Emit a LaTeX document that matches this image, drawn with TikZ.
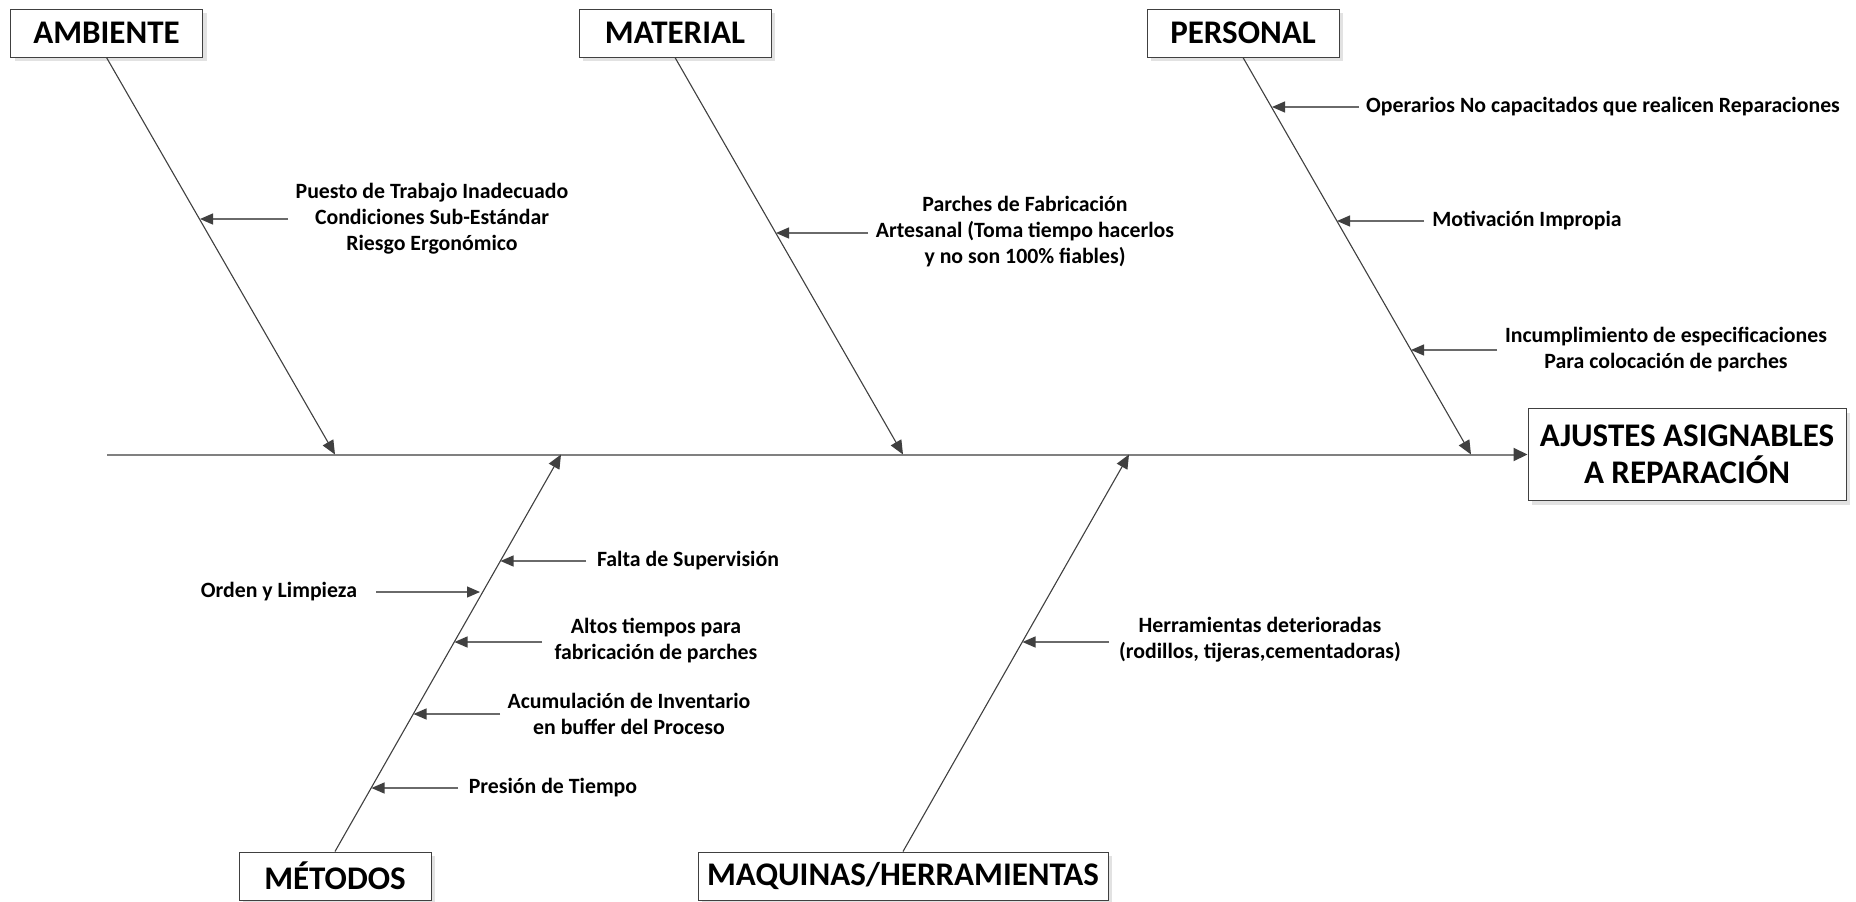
\documentclass[tikz,border=0pt]{standalone}
\usepackage{fontspec}
\setmainfont{Carlito}
\usetikzlibrary{arrows.meta,shadows}

\definecolor{edge}{HTML}{404040}
\definecolor{spinecol}{HTML}{808080}
\definecolor{causecol}{HTML}{6A6A6A}
\definecolor{shade}{HTML}{E2E2E2}

\begin{document}
\begin{tikzpicture}[x=1pt,y=-1pt,
  catbox/.style={draw=edge, line width=1pt, fill=white,
    minimum height=48pt, minimum width=192pt, inner sep=0pt,
    font=\fontsize{33}{38}\selectfont\bfseries,
    drop shadow={shadow xshift=4pt, shadow yshift=-4pt, fill=shade, opacity=1}},
  effectbox/.style={catbox, minimum width=318pt, minimum height=92pt,
    align=center, font=\fontsize{33}{37}\selectfont\bfseries},
  cause/.style={align=center, inner sep=0pt,
    font=\fontsize{21.8}{26}\selectfont\bfseries},
  spine/.style={draw=spinecol, line width=2pt,
    -{Triangle[length=14pt,width=13pt,color=edge]}},
  bone/.style={draw=edge, line width=1.1pt,
    -{Triangle[length=14pt,width=12pt,color=edge]}},
  causearrow/.style={draw=causecol, line width=1.3pt,
    -{Triangle[length=13pt,width=11pt,color=edge]}}
]
\fill[white] (0,0) rectangle (1856,902);
\useasboundingbox (0,0) rectangle (1856,902);

% category boxes and effect
\node[catbox] (amb) at (106.5,33) {AMBIENTE};
\node[catbox] (mat) at (675,33) {MATERIAL};
\node[catbox] (per) at (1243,33) {PERSONAL};
\node[catbox] (met) at (335,876) {MÉTODOS};
\node[catbox, minimum width=410pt] (maq) at (903,876) {MAQUINAS/HERRAMIENTAS};
\node[effectbox] (eff) at (1687,454.5) {AJUSTES ASIGNABLES\\A REPARACIÓN};

% spine
\coordinate (head) at (107,454.5);
\draw[spine] (head) -- (eff.west);

% main bones
\coordinate (ambT) at (335,454.5);
\coordinate (matT) at (903,454.5);
\coordinate (perT) at (1471,454.5);
\coordinate (metT) at (561,454.5);
\coordinate (maqT) at (1129,454.5);
\draw[bone] (amb.south) -- (ambT);
\draw[bone] (mat.south) -- (matT);
\draw[bone] (per.south) -- (perT);
\draw[bone] (met.north) -- (metT);
\draw[bone] (maq.north) -- (maqT);

% causes
\node[cause] (c1) at (432,219) {Puesto de Trabajo Inadecuado\\Condiciones Sub-Estándar\\Riesgo Ergonómico};
\node[cause] (c2) at (1025,232) {Parches de Fabricación\\Artesanal (Toma tiempo hacerlos\\y no son 100\% fiables)};
\node[cause] (c3) at (1603,107) {Operarios No capacitados que realicen Reparaciones};
\node[cause] (c4) at (1527,221) {Motivación Impropia};
\node[cause] (c5) at (1666,350) {Incumplimiento de especificaciones\\Para colocación de parches};
\node[cause] (c6) at (688,561) {Falta de Supervisión};
\node[cause] (c7) at (279,592) {Orden y Limpieza};
\node[cause] (c8) at (656,641) {Altos tiempos para\\fabricación de parches};
\node[cause] (c9) at (629,714) {Acumulación de Inventario\\en buffer del Proceso};
\node[cause] (c10) at (553,788) {Presión de Tiempo};
\node[cause] (c11) at (1260,640) {Herramientas deterioradas\\(rodillos, tijeras,cementadoras)};

% cause arrow ends
\coordinate (s1) at (288,219);   \coordinate (t1) at (200,219);
\coordinate (s2) at (868,233);   \coordinate (t2) at (776,233);
\coordinate (s3) at (1359,107);  \coordinate (t3) at (1272,107);
\coordinate (s4) at (1424,221);  \coordinate (t4) at (1337,221);
\coordinate (s5) at (1497,350);  \coordinate (t5) at (1411,350);
\coordinate (s6) at (586,561);   \coordinate (t6) at (500.5,561);
\coordinate (s7) at (376,592);   \coordinate (t7) at (480,592);
\coordinate (s8) at (542,642);   \coordinate (t8) at (454.5,642);
\coordinate (s9) at (500,714);   \coordinate (t9) at (413.5,714);
\coordinate (s10) at (458,788);  \coordinate (t10) at (371.5,788);
\coordinate (s11) at (1109,642); \coordinate (t11) at (1022.5,642);

\foreach \i in {1,...,11} {
  \draw[causearrow] (s\i) -- (t\i);
}
\end{tikzpicture}
\end{document}
